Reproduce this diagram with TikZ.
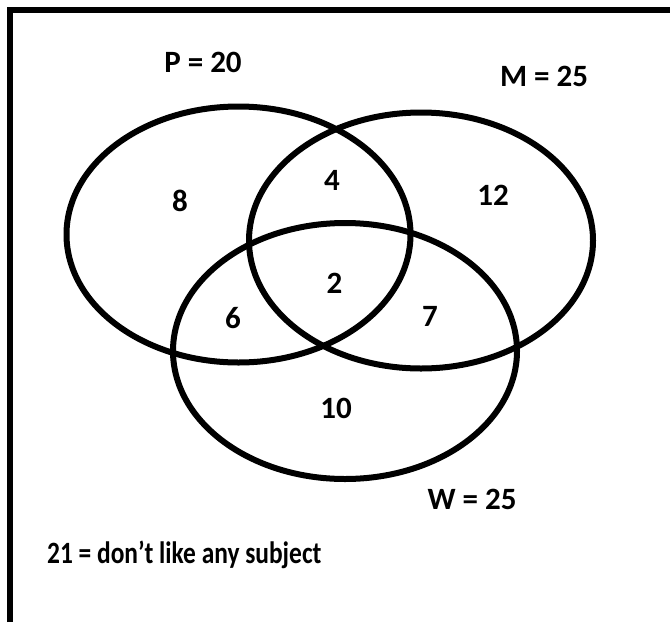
\documentclass[tikz,border=0pt]{standalone}
\usepackage{fontspec}
\setmainfont{Carlito}
\usetikzlibrary{shapes.geometric}
\begin{document}
\begin{tikzpicture}[x=1pt,y=-1pt,
    setring/.style={draw,ellipse,line width=6pt,minimum width=344pt,minimum height=256pt,inner sep=0pt},
    count/.style={font=\fontsize{31}{33}\selectfont\bfseries,inner sep=0pt}]
    \useasboundingbox (0,0) rectangle (670,622);
    % frame
    \draw[line width=6pt] (9.5,622) -- (9.5,9.5) -- (670,9.5);
    % sets
    \node[setring] (setP) at (238.5,234.5) {};
    \node[setring] (setM) at (421,240.5) {};
    \node[setring] (setW) at (345,351) {};
    % set labels
    \node[count] (labP) at (203,62) {P = 20};
    \node[count] (labM) at (544,76.5) {M = 25};
    \node[count] (labW) at (472,499) {W = 25};
    % regions
    \node[count] (onlyP) at (180,201) {8};
    \node[count] (PM) at (332,180) {4};
    \node[count] (onlyM) at (493,195) {12};
    \node[count] (PMW) at (334.5,283) {2};
    \node[count] (PW) at (233,318) {6};
    \node[count] (MW) at (430,316) {7};
    \node[count] (onlyW) at (336,408) {10};
    \node[count,anchor=west] (none) at (47,555) {\scalebox{0.82}[1]{21 = don’t like any subject}};
\end{tikzpicture}
\end{document}
